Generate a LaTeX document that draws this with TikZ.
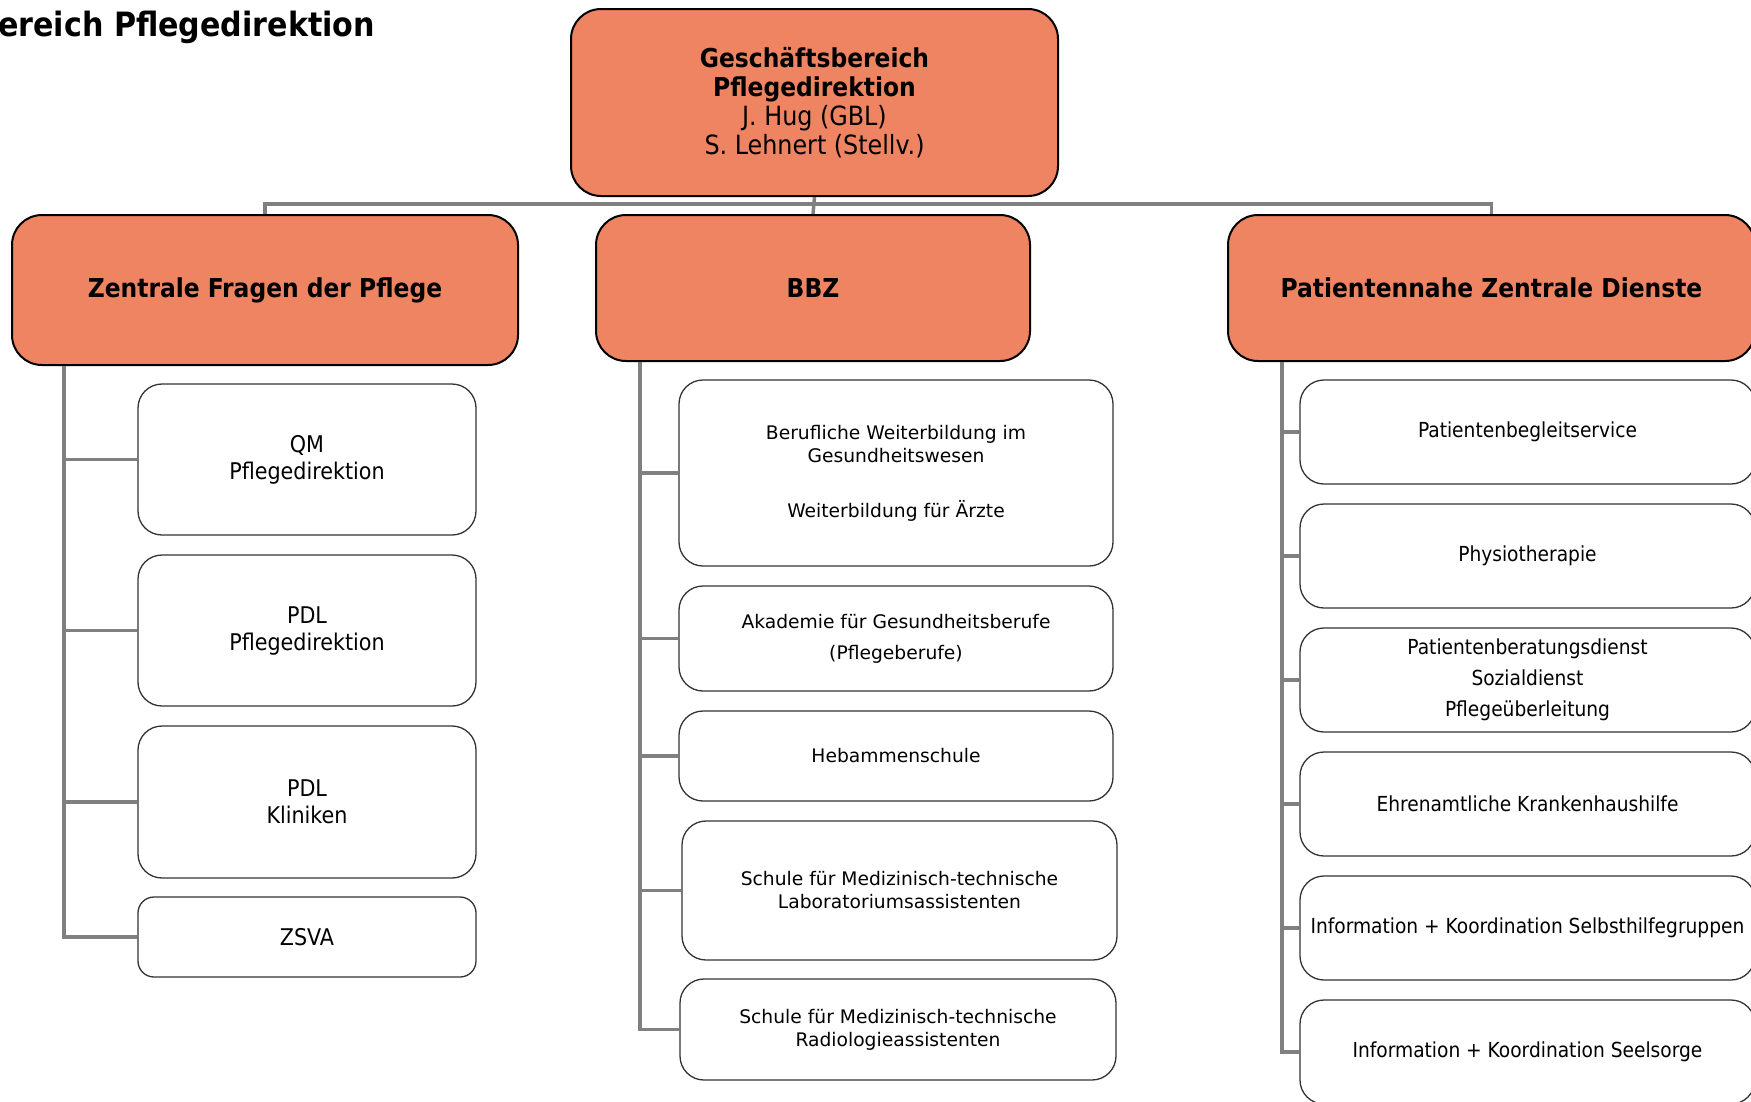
\documentclass[tikz,border=0pt]{standalone}
\usepackage{fontspec}
\setmainfont{DejaVu Sans Condensed}
\newfontfamily\verd{DejaVu Sans}
\definecolor{orgfill}{HTML}{EE8462}
\definecolor{conngray}{HTML}{808080}
\definecolor{boxline}{HTML}{333333}
\begin{document}
\begin{tikzpicture}[x=1pt,y=-1pt,
  obox/.style={draw=black, line width=2pt, fill=orgfill, rounded corners=30pt, inner sep=0pt, align=center, font=\fontsize{26.5}{29}\selectfont},
  wbox/.style={draw=boxline, line width=1.3pt, fill=white, rounded corners=24pt, inner sep=0pt, align=center, font=\fontsize{20.7}{26}\selectfont},
  lbox/.style={wbox, font=\fontsize{23}{27}\selectfont},
  vbox/.style={wbox, font=\verd\fontsize{18.7}{23}\selectfont},
  conn/.style={draw=conngray, line width=3.5pt}]
\useasboundingbox (0,0) rectangle (1751,1101);

\node[anchor=west, font=\bfseries\fontsize{33.5}{36}\selectfont, inner sep=0pt] (title) at (-2,27) {ereich Pflegedirektion};

\node[obox, minimum width=487, minimum height=187] (top) at (814.5,102.5)
  {{\bfseries\fontsize{26}{29}\selectfont Geschäftsbereich}\\{\bfseries\fontsize{26}{29}\selectfont Pflegedirektion}\\J. Hug (GBL)\\S. Lehnert (Stellv.)};

\node[obox, minimum width=506, minimum height=150, font=\bfseries\fontsize{26}{30}\selectfont] (zf) at (265,290) {Zentrale Fragen der Pflege};
\node[obox, minimum width=434, minimum height=146, font=\bfseries\fontsize{26}{30}\selectfont] (bbz) at (813,288) {BBZ};
\node[obox, minimum width=527, minimum height=146, font=\bfseries\fontsize{26}{30}\selectfont] (pz) at (1491.5,288) {Patientennahe Zentrale Dienste};

\coordinate (bus) at (814,204);
\coordinate (trunkL) at (64,0);
\coordinate (trunkM) at (640,0);
\coordinate (trunkR) at (1282,0);

% left column
\node[lbox, minimum width=338, minimum height=151] (qm) at (307,459.5) {QM\\Pflegedirektion};
\node[lbox, minimum width=338, minimum height=151] (pdlp) at (307,630.5) {PDL\\Pflegedirektion};
\node[lbox, minimum width=338, minimum height=152] (pdlk) at (307,802) {PDL\\Kliniken};
\node[lbox, minimum width=338, minimum height=80, rounded corners=16pt] (zsva) at (307,937) {ZSVA};

% middle column
\node[vbox, minimum width=434, minimum height=186] (bw) at (896,473) {Berufliche Weiterbildung im\\Gesundheitswesen\\[32pt]Weiterbildung für Ärzte};
\node[vbox, minimum width=434, minimum height=105, font=\verd\fontsize{18.7}{31}\selectfont] (ak) at (896,638.5) {Akademie für Gesundheitsberufe\\(Pflegeberufe)};
\node[vbox, minimum width=434, minimum height=90] (heb) at (896,756) {Hebammenschule};
\node[vbox, minimum width=435, minimum height=139] (mtla) at (899.5,890.5) {Schule für Medizinisch-technische\\Laboratoriumsassistenten};
\node[vbox, minimum width=436, minimum height=101] (mtra) at (898,1029.5) {Schule für Medizinisch-technische\\Radiologieassistenten};

% right column
\node[wbox, minimum width=455, minimum height=104] (pbs) at (1527.5,432) {Patientenbegleitservice};
\node[wbox, minimum width=455, minimum height=104] (phy) at (1527.5,556) {Physiotherapie};
\node[wbox, minimum width=455, minimum height=104, font=\fontsize{20.7}{31}\selectfont] (pbd) at (1527.5,680) {Patientenberatungsdienst\\Sozialdienst\\Pflegeüberleitung};
\node[wbox, minimum width=455, minimum height=104] (ekh) at (1527.5,804) {Ehrenamtliche Krankenhaushilfe};
\node[wbox, minimum width=455, minimum height=104] (iks) at (1527.5,928) {Information + Koordination Selbsthilfegruppen};
\node[wbox, minimum width=455, minimum height=104] (iksee) at (1527.5,1052) {Information + Koordination Seelsorge};

% connectors
\draw[conn] (top.south) -- (bbz.north);
\draw[conn] (zf.north) |- (bus) -| (pz.north);

\draw[conn] (zf.south -| trunkL) |- (qm.west);
\draw[conn] (zf.south -| trunkL) |- (pdlp.west);
\draw[conn] (zf.south -| trunkL) |- (pdlk.west);
\draw[conn] (zf.south -| trunkL) |- (zsva.west);

\draw[conn] (bbz.south -| trunkM) |- (bw.west);
\draw[conn] (bbz.south -| trunkM) |- (ak.west);
\draw[conn] (bbz.south -| trunkM) |- (heb.west);
\draw[conn] (bbz.south -| trunkM) |- (mtla.west);
\draw[conn] (bbz.south -| trunkM) |- (mtra.west);

\draw[conn] (pz.south -| trunkR) |- (pbs.west);
\draw[conn] (pz.south -| trunkR) |- (phy.west);
\draw[conn] (pz.south -| trunkR) |- (pbd.west);
\draw[conn] (pz.south -| trunkR) |- (ekh.west);
\draw[conn] (pz.south -| trunkR) |- (iks.west);
\draw[conn] (pz.south -| trunkR) |- (iksee.west);
\end{tikzpicture}
\end{document}
